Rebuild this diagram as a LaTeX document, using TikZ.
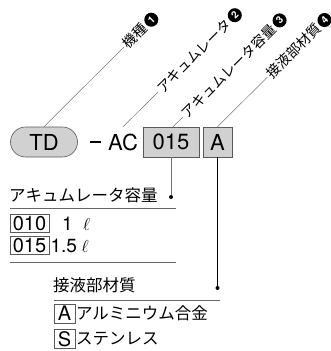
\documentclass[tikz,border=0pt]{standalone}
\usepackage{fontspec}
\setmainfont{TeX Gyre Heros}
\newfontfamily\jp{Noto Sans CJK JP}
\usepackage{xcolor}

\begin{document}
\begin{tikzpicture}[x=1pt, y=-1pt,
    codebox/.style={draw=black!65, fill=black!18, line width=0.6pt, minimum height=30pt, inner sep=0pt, font=\fontsize{22}{22}\selectfont},
    leader/.style={draw=black!55, line width=0.5pt},
    tag/.style={anchor=west, rotate=45, inner sep=1.5pt, font=\jp\fontsize{14}{14}\selectfont},
    num/.style={circle, fill=black, text=white, anchor=west, rotate=45, inner sep=0pt, minimum size=14pt, font=\bfseries\fontsize{10}{10}\selectfont},
    title/.style={anchor=west, inner sep=1pt, font=\jp\fontsize{16.5}{16.5}\selectfont},
    rule/.style={draw=black!60, line width=0.6pt},
    keybox/.style={draw=black!65, line width=0.6pt, minimum height=18pt, inner sep=0pt, font=\fontsize{20}{20}\selectfont},
    value/.style={anchor=west, inner sep=1pt, font=\fontsize{19}{19}\selectfont}]
    \useasboundingbox (0,0) rectangle (331,351);

    % model code (top)
    \node[codebox, rounded corners=15pt, minimum width=67pt] (td) at (44,142) {TD};
    \node[inner sep=0pt] (dash) at (95,142) {\rule{11pt}{1.4pt}};
    \node[minimum height=30pt, inner sep=0pt, font=\fontsize{22}{22}\selectfont] (ac) at (123,142) {AC};
    \node[codebox, minimum width=56pt] (cap) at (171,142) {015};
    \node[codebox, minimum width=29pt] (mat) at (217.5,142) {A};

    % leaders with labels
    \coordinate (t1) at (124,47);
    \coordinate (t2) at (158,92);
    \coordinate (t3) at (183,117);
    \coordinate (t4) at (267.5,77);
    \draw[leader] (td.north) -- (t1);
    \draw[leader] (ac.north) -- (t2);
    \draw[leader] ([xshift=2pt]cap.north) -- (t3);
    \draw[leader] (mat.north) -- (t4);
    \node[tag] (l1) at (t1) {機種};
    \node[tag] (l2) at (t2) {アキュムレータ};
    \node[tag] (l3) at (t3) {アキュムレータ容量};
    \node[tag] (l4) at (t4) {接液部材質};
    \node[num] (n1) at (l1.east) {1};
    \node[num] (n2) at (l2.east) {2};
    \node[num] (n3) at (l3.east) {3};
    \node[num] (n4) at (l4.east) {4};

    % capacity
    \node[title] (capttl) at (8,195) {アキュムレータ容量};
    \coordinate (capdot) at (171,197);
    \draw[leader] (cap.south) -- (capdot);
    \fill (capdot) circle (2pt);
    \coordinate (r1a) at (10,208);
    \coordinate (r1b) at (176,208);
    \draw[rule] (r1a) -- (r1b);
    \node[keybox, minimum width=39pt] (k010) at (29.5,223.5) {010};
    \node[value] (v010) at (61,224) {1\hspace{0.55em}$\ell$};
    \node[keybox, minimum width=39pt] (k015) at (29.5,245.5) {015};
    \node[value] (v015) at (k015.east) {1.5\hspace{0.25em}$\ell$};
    \coordinate (r2a) at (10,262);
    \coordinate (r2b) at (176,262);
    \draw[rule] (r2a) -- (r2b);

    % material
    \node[title] (matttl) at (52,285) {接液部材質};
    \coordinate (matdot) at (217.5,288);
    \draw[line width=0.7pt] (mat.south) -- (matdot);
    \fill (matdot) circle (2pt);
    \coordinate (r3a) at (54,300);
    \coordinate (r3b) at (220,300);
    \draw[rule] (r3a) -- (r3b);
    \node[keybox, minimum width=21pt, minimum height=19pt] (kA) at (64.5,313.5) {A};
    \node[title, inner sep=0.5pt] (vA) at (kA.east) {アルミニウム合金};
    \node[keybox, minimum width=21pt, minimum height=19pt] (kS) at (64.5,339) {S};
    \node[title, inner sep=0.5pt] (vS) at (kS.east) {ステンレス};
\end{tikzpicture}
\end{document}
